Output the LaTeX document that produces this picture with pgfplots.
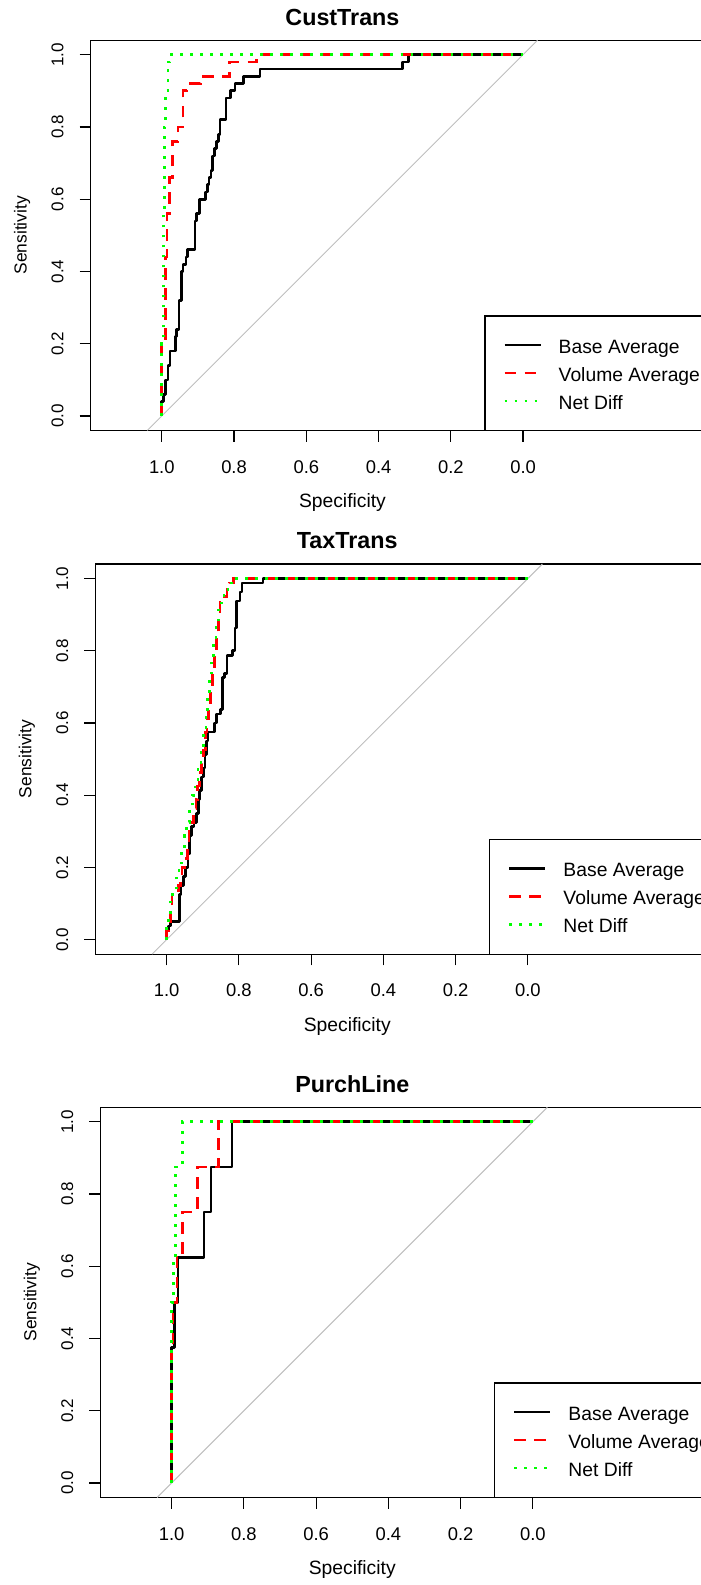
\documentclass[border=0pt]{standalone}
\usepackage{fontspec}
\setmainfont{Liberation Sans}
\usepackage{pgfplots}
\pgfplotsset{compat=1.18}

\definecolor{rocred}{RGB}{255,0,0}
\definecolor{rocgreen}{RGB}{0,255,0}
\definecolor{chance}{RGB}{190,190,190}

\newcommand{\labfont}{\fontsize{9.65pt}{11pt}\selectfont}
\newcommand{\xtickfont}{\fontsize{9.2pt}{11pt}\selectfont}
\newcommand{\ytickfont}{\fontsize{8.5pt}{10pt}\selectfont}
\newcommand{\ylabfont}{\fontsize{8.7pt}{10pt}\selectfont}
\newcommand{\mainfont}{\bfseries\fontsize{11.65pt}{13pt}\selectfont}

\pgfplotsset{
  roc/.style={
    scale only axis, width=324.54pt, height=195.10pt,
    x dir=reverse, xmin=-0.6, xmax=1.1965, ymin=-0.04, ymax=1.04,
    anchor=origin, clip=false,
    axis line style={black, line width=0.6pt},
    tick align=outside, major tick length=5.6pt,
    tick style={black, line width=0.6pt},
    xtick={0,0.2,0.4,0.6,0.8,1}, ytick={0,0.2,0.4,0.6,0.8,1},
    xticklabels={0.0,0.2,0.4,0.6,0.8,1.0},
    yticklabels={0.0,0.2,0.4,0.6,0.8,1.0},
    xtick pos=left, ytick pos=left,
    xticklabel style={font=\xtickfont, anchor=base, inner sep=0pt},
    yticklabel style={font=\ytickfont, rotate=90, anchor=base, inner sep=0pt},
    xticklabel shift=15.7pt, yticklabel shift=8.1pt,
    legend cell align=left,
    legend style={at={(axis cs:0.0548,0.2123)}, anchor=north west, draw=none, fill=none,
      inner sep=0pt, outer sep=0pt, font=\labfont, row sep=5pt, column sep=8.35pt,
      nodes={inner sep=0pt, outer sep=0pt, text height=7pt, text depth=2pt, anchor=base west}},
    legend image code/.code={\path (0pt,0pt); \draw[##1] (0pt,4.15pt) -- (18pt,4.15pt);},
  },
  base/.style={black, line width=1.35pt, line join=round},
  vol/.style={rocred, line width=1.35pt, dash pattern=on 5.85pt off 4.15pt},
  net/.style={rocgreen, line width=1.35pt, dash pattern=on 1.35pt off 3.65pt},
  chanceline/.style={chance, line width=0.5pt, forget plot},
}

% frame of the legend and the panel texts
\newcommand{\panelframe}[1]{%
  \draw[black, line width=0.6pt] (axis cs:0.1055,-0.04) -- (axis cs:0.1055,0.277) -- (axis cs:-0.6,0.277);
  \node[font=\mainfont, anchor=base] at (axis cs:0.5,1.0815) {#1};
  \node[font=\labfont, anchor=base] at (axis cs:0.5,-0.254) {Specificity};
  \node[font=\ylabfont, rotate=90, anchor=base] at (axis cs:1.374,0.5) {Sensitivity};
}

\begin{document}
\begin{tikzpicture}
\useasboundingbox (0pt,0pt) rectangle (350.5pt,792.5pt);

% ---------------- CustTrans ----------------
\begin{axis}[roc, at={(261.55pt,584.5pt)}]
\addplot[chanceline] coordinates {(1.04,-0.04) (-0.04,1.04)};
\addplot[base] coordinates {
(1.000,0.00)(1.000,0.04)(0.995,0.04)(0.995,0.06)(0.990,0.06)(0.990,0.10)
(0.983,0.10)(0.983,0.14)(0.977,0.14)(0.977,0.18)(0.963,0.18)(0.963,0.22)
(0.959,0.22)(0.959,0.24)(0.952,0.24)(0.952,0.32)(0.945,0.32)(0.945,0.40)
(0.941,0.40)(0.941,0.42)(0.933,0.42)(0.933,0.44)(0.929,0.44)(0.929,0.46)
(0.908,0.46)(0.908,0.54)(0.904,0.54)(0.904,0.56)(0.896,0.56)(0.896,0.60)
(0.880,0.60)(0.880,0.62)(0.874,0.62)(0.874,0.64)(0.869,0.64)(0.869,0.66)
(0.864,0.66)(0.864,0.68)(0.859,0.68)(0.859,0.72)(0.855,0.72)(0.855,0.74)
(0.848,0.74)(0.848,0.76)(0.844,0.76)(0.844,0.78)(0.839,0.78)(0.839,0.82)
(0.822,0.82)(0.822,0.88)(0.810,0.88)(0.810,0.90)(0.797,0.90)(0.797,0.92)
(0.773,0.92)(0.773,0.94)(0.728,0.94)(0.728,0.96)(0.333,0.96)(0.333,0.98)
(0.317,0.98)(0.317,1.00)(0.000,1.00)};
\addplot[vol] coordinates {
(1.000,0.00)(1.000,0.20)(0.990,0.20)(0.990,0.44)(0.986,0.44)(0.986,0.56)
(0.979,0.56)(0.979,0.66)(0.971,0.66)(0.971,0.76)(0.955,0.76)(0.955,0.80)
(0.941,0.80)(0.941,0.90)(0.930,0.90)(0.930,0.92)(0.893,0.92)(0.893,0.94)
(0.813,0.94)(0.813,0.98)(0.737,0.98)(0.737,1.00)(0.000,1.00)};
\addplot[net] coordinates {
(1.000,0.00)(1.000,0.20)(0.996,0.20)(0.996,0.56)(0.993,0.56)(0.993,0.80)
(0.989,0.80)(0.989,0.90)(0.983,0.90)(0.983,0.98)(0.977,0.98)(0.977,1.00)
(0.000,1.00)};
\legend{Base Average, Volume Average, Net Diff}
\panelframe{CustTrans}
\end{axis}

% ---------------- TaxTrans ----------------
\begin{axis}[roc, at={(263.95pt,322.65pt)}]
\addplot[chanceline] coordinates {(1.04,-0.04) (-0.04,1.04)};
\addplot[base] coordinates {
(1.000,0.000)(1.000,0.025)(0.995,0.025)(0.995,0.0375)(0.990,0.0375)(0.990,0.050)
(0.965,0.050)(0.965,0.125)(0.960,0.125)(0.960,0.150)(0.953,0.150)(0.953,0.175)
(0.947,0.175)(0.947,0.200)(0.941,0.200)(0.941,0.2375)(0.937,0.2375)(0.937,0.2875)
(0.931,0.2875)(0.931,0.3125)(0.924,0.3125)(0.924,0.325)(0.918,0.325)(0.918,0.350)
(0.912,0.350)(0.912,0.3875)(0.908,0.3875)(0.908,0.4125)(0.904,0.4125)(0.904,0.450)
(0.898,0.450)(0.898,0.475)(0.894,0.475)(0.894,0.5125)(0.890,0.5125)(0.890,0.550)
(0.885,0.550)(0.885,0.575)(0.868,0.575)(0.868,0.600)(0.861,0.600)(0.861,0.625)
(0.850,0.625)(0.850,0.6375)(0.846,0.6375)(0.846,0.725)(0.840,0.725)(0.840,0.7375)
(0.833,0.7375)(0.833,0.7875)(0.817,0.7875)(0.817,0.800)(0.811,0.800)(0.811,0.8625)
(0.806,0.8625)(0.806,0.9375)(0.797,0.9375)(0.797,0.9625)(0.791,0.9625)(0.791,0.9875)
(0.733,0.9875)(0.733,1.000)(0.000,1.000)};
\addplot[vol] coordinates {
(1.000,0.000)(1.000,0.025)(0.995,0.025)(0.995,0.050)(0.990,0.050)(0.990,0.0875)
(0.985,0.0875)(0.985,0.125)(0.967,0.125)(0.967,0.150)(0.962,0.150)(0.962,0.175)
(0.957,0.175)(0.957,0.200)(0.950,0.200)(0.950,0.225)(0.943,0.225)(0.943,0.2625)
(0.938,0.2625)(0.938,0.300)(0.932,0.300)(0.932,0.325)(0.926,0.325)(0.926,0.3625)
(0.919,0.3625)(0.919,0.3875)(0.914,0.3875)(0.914,0.425)(0.909,0.425)(0.909,0.4625)
(0.904,0.4625)(0.904,0.4875)(0.897,0.4875)(0.897,0.525)(0.892,0.525)(0.892,0.575)
(0.888,0.575)(0.888,0.6125)(0.884,0.6125)(0.884,0.650)(0.878,0.650)(0.878,0.700)
(0.872,0.700)(0.872,0.7375)(0.867,0.7375)(0.867,0.7875)(0.862,0.7875)(0.862,0.850)
(0.857,0.850)(0.857,0.8875)(0.852,0.8875)(0.852,0.9375)(0.844,0.9375)(0.844,0.950)
(0.833,0.950)(0.833,0.975)(0.825,0.975)(0.825,0.9875)(0.815,0.9875)(0.815,1.000)
(0.000,1.000)};
\addplot[net] coordinates {
(1.000,0.000)(1.000,0.0375)(0.995,0.0375)(0.995,0.075)(0.990,0.075)(0.990,0.125)
(0.984,0.125)(0.984,0.1375)(0.973,0.1375)(0.973,0.175)(0.966,0.175)(0.966,0.2125)
(0.958,0.2125)(0.958,0.250)(0.950,0.250)(0.950,0.2875)(0.944,0.2875)(0.944,0.325)
(0.936,0.325)(0.936,0.3625)(0.929,0.3625)(0.929,0.400)(0.921,0.400)(0.921,0.4375)
(0.913,0.4375)(0.913,0.475)(0.905,0.475)(0.905,0.525)(0.897,0.525)(0.897,0.575)
(0.891,0.575)(0.891,0.625)(0.886,0.625)(0.886,0.675)(0.881,0.675)(0.881,0.725)
(0.876,0.725)(0.876,0.775)(0.870,0.775)(0.870,0.825)(0.863,0.825)(0.863,0.875)
(0.857,0.875)(0.857,0.9125)(0.849,0.9125)(0.849,0.9375)(0.841,0.9375)(0.841,0.9625)
(0.830,0.9625)(0.830,0.9875)(0.815,0.9875)(0.815,1.000)(0.000,1.000)};
\legend{Base Average, Volume Average, Net Diff}
\panelframe{TaxTrans}
\end{axis}

% ---------------- PurchLine ----------------
\begin{axis}[roc, at={(266.45pt,51pt)}]
\addplot[chanceline] coordinates {(1.04,-0.04) (-0.04,1.04)};
\addplot[base] coordinates {
(1.000,0.000)(1.000,0.375)(0.991,0.375)(0.991,0.500)(0.982,0.500)(0.982,0.625)
(0.910,0.625)(0.910,0.750)(0.891,0.750)(0.891,0.875)(0.833,0.875)(0.833,1.000)
(0.000,1.000)};
\addplot[vol] coordinates {
(1.000,0.000)(1.000,0.375)(0.996,0.375)(0.996,0.500)(0.985,0.500)(0.985,0.625)
(0.970,0.625)(0.970,0.750)(0.929,0.750)(0.929,0.875)(0.871,0.875)(0.871,1.000)
(0.000,1.000)};
\addplot[net] coordinates {
(1.000,0.000)(1.000,0.500)(0.994,0.500)(0.994,0.625)(0.989,0.625)(0.989,0.875)
(0.970,0.875)(0.970,1.000)(0.000,1.000)};
\legend{Base Average, Volume Average, Net Diff}
\panelframe{PurchLine}
\end{axis}
\end{tikzpicture}
\end{document}
